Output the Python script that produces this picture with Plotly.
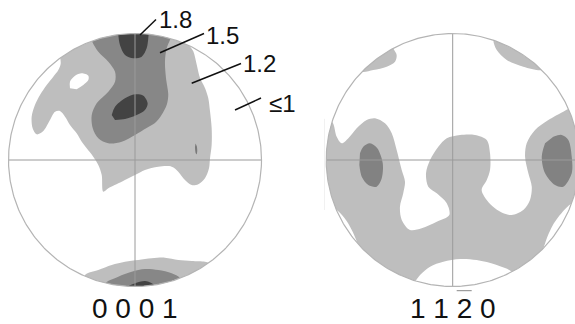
import numpy as np
import plotly.graph_objects as go

W, H = 575, 324

# Contour levels (multiples of random distribution) and pole-figure names
LEVEL_LABELS = ["1.8", "1.5", "1.2", "\u22641"]
FIGURE_LABELS = ["0 0 0 1", "1 1 2 0"]

# ---- (0001) pole figure: contour outlines, equal-area projection (unit circle = rim)
P0001_LIGHT_MAIN = [
    (-0.62, 0.92), (-0.587, 0.764), (-0.606, 0.711), (-0.646, 0.658), (-0.698, 0.593),
    (-0.751, 0.514), (-0.791, 0.435), (-0.817, 0.342), (-0.809, 0.251), (-0.777, 0.203),
    (-0.725, 0.229), (-0.672, 0.316), (-0.632, 0.382), (-0.593, 0.387), (-0.553, 0.342),
    (-0.514, 0.277), (-0.461, 0.211), (-0.421, 0.145), (-0.382, 0.092), (-0.330, 0.026),
    (-0.290, -0.040), (-0.263, -0.119), (-0.251, -0.251), (-0.211, -0.224), (-0.105, -0.172),
    (0.0, -0.119), (0.079, -0.079), (0.184, -0.053), (0.290, -0.053), (0.342, -0.092),
    (0.395, -0.158), (0.448, -0.198), (0.500, -0.192), (0.553, -0.145), (0.585, -0.066),
    (0.593, 0.013), (0.606, 0.121), (0.606, 0.253), (0.593, 0.385), (0.579, 0.490),
    (0.553, 0.569), (0.514, 0.648), (0.488, 0.753), (0.461, 0.859), (0.421, 0.925),
    (0.45, 1.0), (0.0, 1.12),
]
P0001_LIGHT_HOLE = [
    (-0.514, 0.567), (-0.514, 0.619), (-0.474, 0.666), (-0.421, 0.685),
    (-0.369, 0.666), (-0.369, 0.632), (-0.409, 0.593), (-0.461, 0.559),
]
P0001_LIGHT_BOTTOM = [
    (-0.42, -1.0), (-0.395, -0.909), (-0.290, -0.870), (-0.184, -0.830), (-0.079, -0.804),
    (0.026, -0.791), (0.132, -0.777), (0.237, -0.772), (0.342, -0.791), (0.448, -0.798),
    (0.553, -0.804), (0.585, -0.817), (0.62, -0.9), (0.0, -1.12),
]
P0001_MID_MAIN = [
    (-0.36, 1.0), (-0.338, 0.935), (-0.290, 0.856), (-0.211, 0.777), (-0.158, 0.698),
    (-0.158, 0.619), (-0.211, 0.540), (-0.303, 0.448), (-0.342, 0.356), (-0.334, 0.251),
    (-0.290, 0.172), (-0.211, 0.132), (-0.105, 0.145), (0.0, 0.198), (0.092, 0.253),
    (0.158, 0.292), (0.211, 0.358), (0.251, 0.437), (0.263, 0.516), (0.245, 0.648),
    (0.237, 0.780), (0.251, 0.885), (0.277, 0.951), (0.30, 1.02), (0.0, 1.1),
]
P0001_MID_SPOT = [
    (0.478, 0.13), (0.488, 0.11), (0.492, 0.07), (0.486, 0.045), (0.478, 0.06), (0.474, 0.10),
]
P0001_MID_BOTTOM = [
    (-0.25, -1.05), (-0.237, -0.975), (-0.132, -0.922), (-0.026, -0.883), (0.079, -0.862),
    (0.184, -0.870), (0.290, -0.896), (0.356, -0.935), (0.38, -1.05), (0.0, -1.1),
]
P0001_DARK_TOP = [
    (-0.14, 1.05), (-0.132, 0.988), (-0.119, 0.909), (-0.079, 0.830), (-0.013, 0.804),
    (0.053, 0.817), (0.092, 0.883), (0.105, 0.962), (0.11, 1.05),
]
P0001_DARK_CENTER = [
    (-0.184, 0.356), (-0.158, 0.421), (-0.079, 0.488), (0.0, 0.519), (0.066, 0.508),
    (0.100, 0.448), (0.079, 0.395), (0.013, 0.356), (-0.079, 0.324), (-0.158, 0.316),
]
P0001_DARK_BOTTOM = [
    (-0.06, -1.03), (-0.053, -1.0), (0.0, -0.975), (0.079, -0.957), (0.132, -0.975),
    (0.158, -0.996), (0.17, -1.03),
]

# ---- (11-20) pole figure
P1120_LIGHT_TOPLEFT = [
    (-0.76, 0.74), (-0.719, 0.698), (-0.628, 0.711), (-0.522, 0.738), (-0.456, 0.777),
    (-0.443, 0.830), (-0.470, 0.883), (-0.50, 0.95),
]
P1120_LIGHT_TOPRIGHT = [
    (0.34, 1.02), (0.321, 0.949), (0.348, 0.870), (0.427, 0.791), (0.558, 0.738),
    (0.704, 0.711), (0.76, 0.74),
]
P1120_LIGHT_MAIN = [
    (-1.05, 0.33), (-0.954, 0.303), (-0.917, 0.184), (-0.877, 0.132), (-0.825, 0.172),
    (-0.759, 0.251), (-0.680, 0.316), (-0.614, 0.330), (-0.535, 0.290), (-0.482, 0.211),
    (-0.443, 0.079), (-0.403, -0.079), (-0.377, -0.172), (-0.391, -0.263), (-0.417, -0.369),
    (-0.403, -0.474), (-0.338, -0.553), (-0.245, -0.540), (-0.126, -0.488), (-0.027, -0.435),
    (-0.047, -0.342), (-0.126, -0.263), (-0.193, -0.211), (-0.211, -0.105), (-0.179, 0.0),
    (-0.114, 0.105), (-0.047, 0.172), (0.058, 0.198), (0.176, 0.198), (0.269, 0.158),
    (0.295, 0.053), (0.295, -0.079), (0.269, -0.158), (0.229, -0.237), (0.269, -0.316),
    (0.334, -0.382), (0.400, -0.421), (0.466, -0.435), (0.558, -0.395), (0.611, -0.316),
    (0.625, -0.211), (0.598, -0.105), (0.572, 0.026), (0.585, 0.132), (0.651, 0.237),
    (0.756, 0.316), (0.874, 0.382), (0.927, 0.409), (1.05, 0.42), (1.1, 0.2),
    (1.1, -0.25), (1.02, -0.36), (0.95, -0.34), (0.86, -0.42), (0.80, -0.50),
    (0.76, -0.58), (0.73, -0.66), (0.72, -0.70), (0.76, -0.76), (0.5, -0.95),
    (0.466, -0.883), (0.348, -0.830), (0.190, -0.791), (0.058, -0.783), (-0.074, -0.804),
    (-0.179, -0.843), (-0.258, -0.909), (-0.298, -0.962), (-0.32, -1.0), (-0.58, -0.88),
    (-0.75, -0.70), (-0.75, -0.67), (-0.79, -0.57), (-0.84, -0.48), (-0.90, -0.41),
    (-0.93, -0.39), (-1.05, -0.4),
]
P1120_MID_LEFT = [
    (-0.733, 0.053), (-0.707, 0.105), (-0.654, 0.132), (-0.596, 0.092), (-0.553, -0.026),
    (-0.561, -0.145), (-0.601, -0.211), (-0.667, -0.198), (-0.719, -0.132), (-0.738, -0.040),
]
P1120_MID_RIGHT = [
    (0.795, 0.184), (0.862, 0.198), (0.914, 0.158), (0.941, 0.026), (0.941, -0.105),
    (0.874, -0.211), (0.809, -0.198), (0.730, -0.105), (0.704, 0.026), (0.730, 0.132),
]

# ---- styling
LIGHT, MID, DARK = "#bebebe", "#878787", "#434343"
RIM_COLOR, CROSS_COLOR = "#b4b4b4", "#9a9a9a"
FONT = "Liberation Sans, Arial, sans-serif"

# disk placement in pixels: (centre x, centre y, radius)
DISKS = [(135.0, 160.0, 126.5), (452.7, 160.0, 126.5)]


def px_x(x):
    return x / W


def px_y(y):
    return 1 - y / H


fig = go.Figure()


def add_region(pts, color, axis, smooth=True):
    xs = [p[0] for p in pts]
    ys = [p[1] for p in pts]
    fig.add_trace(go.Scatter(
        x=xs, y=ys, mode="lines", fill="toself", fillcolor=color,
        line=dict(width=0, color=color, shape="spline" if smooth else "linear", smoothing=0.9),
        hoverinfo="skip", showlegend=False, xaxis="x" + axis, yaxis="y" + axis,
    ))


def add_frame(axis):
    # white corner masks between the rim and the square window, one per quadrant
    for q in range(4):
        t = np.linspace(q * np.pi / 2, (q + 1) * np.pi / 2, 61)
        sx, sy = np.sign(np.cos(t[30])), np.sign(np.sin(t[30]))
        mx = list(np.cos(t)) + [0.0 if q % 2 == 0 else sx * 1.1, sx * 1.1,
                                sx * 1.1 if q % 2 == 0 else 0.0]
        my = list(np.sin(t)) + [sy * 1.1 if q % 2 == 0 else 0.0, sy * 1.1,
                                0.0 if q % 2 == 0 else sy * 1.1]
        fig.add_trace(go.Scatter(x=mx, y=my, mode="lines", fill="toself", fillcolor="white",
                                 line=dict(width=0, color="white"), hoverinfo="skip",
                                 showlegend=False, xaxis="x" + axis, yaxis="y" + axis))
    for xs, ys in (([-1, 1], [0, 0]), ([0, 0], [-1, 1])):
        fig.add_trace(go.Scatter(x=xs, y=ys, mode="lines",
                                 line=dict(width=1, color=CROSS_COLOR), hoverinfo="skip",
                                 showlegend=False, xaxis="x" + axis, yaxis="y" + axis))
    a = np.linspace(0, 2 * np.pi, 361)
    fig.add_trace(go.Scatter(x=np.cos(a), y=np.sin(a), mode="lines",
                             line=dict(width=1.2, color=RIM_COLOR), hoverinfo="skip",
                             showlegend=False, xaxis="x" + axis, yaxis="y" + axis))


# (0001)
for reg in (P0001_LIGHT_MAIN, P0001_LIGHT_BOTTOM):
    add_region(reg, LIGHT, "")
add_region(P0001_LIGHT_HOLE, "white", "")
for reg in (P0001_MID_MAIN, P0001_MID_BOTTOM):
    add_region(reg, MID, "")
add_region(P0001_MID_SPOT, "#7a7a7a", "")
for reg in (P0001_DARK_TOP, P0001_DARK_CENTER, P0001_DARK_BOTTOM):
    add_region(reg, DARK, "")
add_frame("")

# (11-20)
for reg in (P1120_LIGHT_TOPLEFT, P1120_LIGHT_TOPRIGHT, P1120_LIGHT_MAIN):
    add_region(reg, LIGHT, "2")
for reg in (P1120_MID_LEFT, P1120_MID_RIGHT):
    add_region(reg, "#828282", "2")
add_frame("2")

# axes: each disk gets a square data window, rim at |r| = 1; a little
# padding keeps the rim line from being clipped
PAD = 0.012
axis_common = dict(visible=False, showgrid=False, zeroline=False, fixedrange=True)
layout_axes = {}
for i, (cx, cy, r) in enumerate(DISKS):
    sfx = "" if i == 0 else str(i + 1)
    rp = r * (1 + PAD)
    x0, x1 = cx - rp, min(cx + rp, W)
    layout_axes["xaxis" + sfx] = dict(axis_common, domain=[px_x(x0), px_x(x1)],
                                      range=[-(1 + PAD), (x1 - cx) / r],
                                      anchor="y" + sfx)
    layout_axes["yaxis" + sfx] = dict(axis_common, domain=[px_y(cy + rp), px_y(cy - rp)],
                                      range=[-(1 + PAD), 1 + PAD], anchor="x" + sfx)

# level labels with leader lines
label_pos = [(175.5, 19.5), (222.5, 35.0), (259.0, 63.5), (282.5, 103.0)]
leaders = [((140, 35), (156, 19.5)), ((160, 52.7), (204, 33.5)),
           ((191.7, 83.3), (241, 63.5)), ((235, 110), (261, 98))]
annotations = []
shapes = []
for txt, (lx, ly) in zip(LEVEL_LABELS, label_pos):
    annotations.append(dict(text=txt, x=px_x(lx), y=px_y(ly), xref="paper", yref="paper",
                            showarrow=False, xanchor="center", yanchor="middle",
                            font=dict(family=FONT, size=24, color="#111111")))
for (a, b) in leaders:
    shapes.append(dict(type="line", xref="paper", yref="paper",
                       x0=px_x(a[0]), y0=px_y(a[1]), x1=px_x(b[0]), y1=px_y(b[1]),
                       line=dict(color="#111111", width=1.5)))

# pole-figure names under each disk; the "2" of 11-20 carries an overbar
for txt, (cx, cy, r) in zip(FIGURE_LABELS, DISKS):
    annotations.append(dict(text=txt, x=px_x(cx), y=px_y(308.5), xref="paper", yref="paper",
                            showarrow=False, xanchor="center", yanchor="middle",
                            font=dict(family=FONT, size=28, color="#111111")))
cx2 = DISKS[1][0]
shapes.append(dict(type="line", xref="paper", yref="paper",
                   x0=px_x(cx2 + 4), x1=px_x(cx2 + 19), y0=px_y(290.7), y1=px_y(290.7),
                   line=dict(color="#888888", width=1)))

fig.update_layout(
    width=W, height=H, margin=dict(l=0, r=0, t=0, b=0),
    paper_bgcolor="white", plot_bgcolor="white",
    annotations=annotations, shapes=shapes, showlegend=False,
    **layout_axes,
)

fig.write_html("out.html")
